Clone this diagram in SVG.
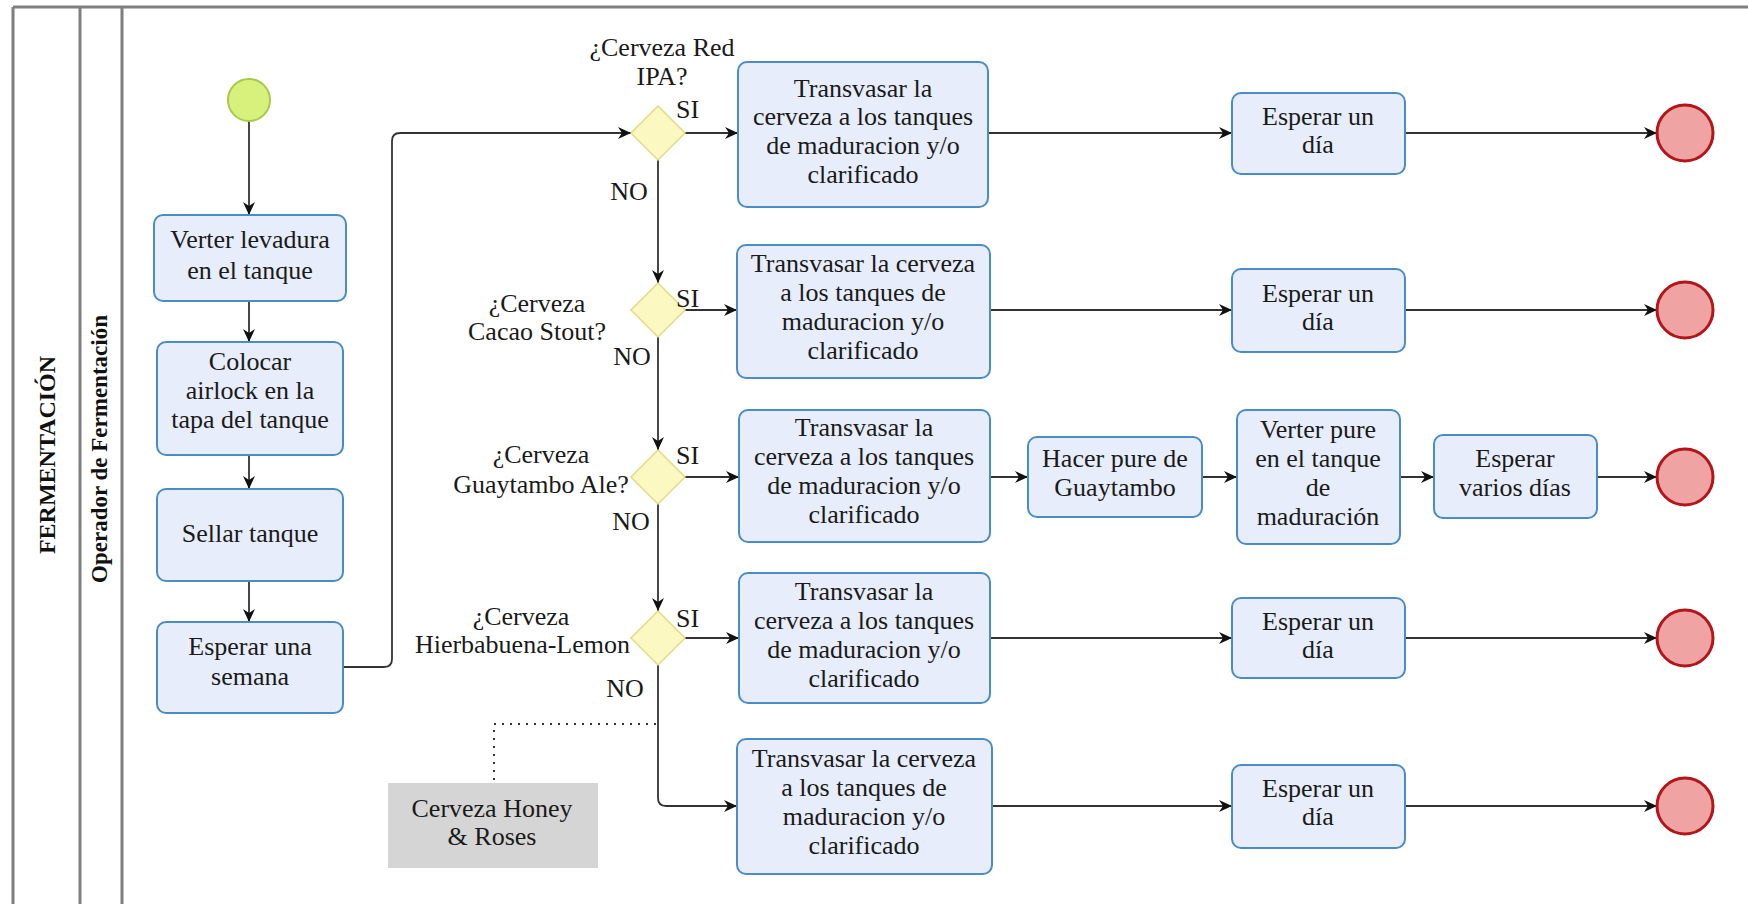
<svg xmlns="http://www.w3.org/2000/svg" width="1748" height="904" viewBox="0 0 1748 904">
  <defs>
    <marker id="arr" markerWidth="14" markerHeight="12" refX="13" refY="6" orient="auto" markerUnits="userSpaceOnUse">
      <path d="M0,0 L13,6 L0,12 L4,6 z" fill="#111"/>
    </marker>
    <style>
      .lane { stroke:#7f7f7f; stroke-width:3; fill:none; }
      .task { fill:#e7edfb; stroke:#4a8cc4; stroke-width:2; }
      .gate { fill:#fbf8c2; stroke:#e2da86; stroke-width:1.5; }
      .start { fill:#d8f07c; stroke:#a9c94a; stroke-width:2; }
      .end { fill:#f0a3a3; stroke:#b3151b; stroke-width:3; }
      .note { fill:#d5d5d5; }
      .t { font-family:"Liberation Serif","Times New Roman",serif; font-size:26px; fill:#1a1a1a; text-anchor:middle; }
      .s { text-anchor:start; }
      .e { text-anchor:end; }
      .hdr { font-family:"Liberation Serif","Times New Roman",serif; font-weight:bold; fill:#111; text-anchor:middle; }
      .flow { fill:none; stroke:#333; stroke-width:1.8; marker-end:url(#arr); }
      .assoc { fill:none; stroke:#333; stroke-width:2; stroke-dasharray:2 6; }
    </style>
  </defs>

  <rect width="1748" height="904" fill="#ffffff"/>

  <!-- pool and lane -->
  <g id="pool">
    <line class="lane" x1="13" y1="7" x2="1748" y2="7"/>
    <line class="lane" x1="13" y1="7" x2="13" y2="904"/>
    <line class="lane" x1="80" y1="7" x2="80" y2="904"/>
    <line class="lane" x1="122" y1="7" x2="122" y2="904" stroke="#9a9a9a"/>
    <text class="hdr" font-size="24" transform="translate(55,455) rotate(-90)">FERMENTACIÓN</text>
    <text class="hdr" font-size="23" transform="translate(107,449) rotate(-90)">Operador de Fermentación</text>
  </g>

  <!-- connectors -->
  <g id="connectors">
    <path class="flow" d="M249,121 V215"/>
    <path class="flow" d="M249,301 V342"/>
    <path class="flow" d="M249,455 V489"/>
    <path class="flow" d="M249,581 V622"/>
    <path class="flow" d="M343,667 H384 Q392,667 392,659 V141 Q392,133 400,133 H631"/>
    <path class="flow" d="M685,133 H738"/>
    <path class="flow" d="M988,133 H1232"/>
    <path class="flow" d="M1405,133 H1657"/>
    <path class="flow" d="M658,160 V283"/>
    <path class="flow" d="M685,310 H737"/>
    <path class="flow" d="M990,310 H1232"/>
    <path class="flow" d="M1405,310 H1657"/>
    <path class="flow" d="M658,337 V450"/>
    <path class="flow" d="M685,477 H739"/>
    <path class="flow" d="M990,477 H1028"/>
    <path class="flow" d="M1202,477 H1237"/>
    <path class="flow" d="M1400,477 H1434"/>
    <path class="flow" d="M1597,477 H1657"/>
    <path class="flow" d="M658,504 V611"/>
    <path class="flow" d="M685,638 H739"/>
    <path class="flow" d="M990,638 H1232"/>
    <path class="flow" d="M1405,638 H1657"/>
    <path class="flow" d="M658,665 V798 Q658,806 666,806 H737"/>
    <path class="flow" d="M992,806 H1232"/>
    <path class="flow" d="M1405,806 H1657"/>
    <path class="assoc" d="M656,724 H494 V780"/>
  </g>

  <!-- start -->
  <g id="start">
    <circle class="start" cx="249" cy="100" r="21"/>
  </g>

  <!-- preparation column -->
  <g id="verter-levadura">
    <rect class="task" x="154" y="215" width="192" height="86" rx="9"/>
    <text class="t" x="250" y="248">Verter levadura</text>
    <text class="t" x="250" y="279">en el tanque</text>
  </g>
  <g id="colocar-airlock">
    <rect class="task" x="157" y="342" width="186" height="113" rx="9"/>
    <text class="t" x="250" y="370">Colocar</text>
    <text class="t" x="250" y="399">airlock en la</text>
    <text class="t" x="250" y="428">tapa del tanque</text>
  </g>
  <g id="sellar-tanque">
    <rect class="task" x="157" y="489" width="186" height="92" rx="9"/>
    <text class="t" x="250" y="542">Sellar tanque</text>
  </g>
  <g id="esperar-semana">
    <rect class="task" x="157" y="622" width="186" height="91" rx="9"/>
    <text class="t" x="250" y="655">Esperar una</text>
    <text class="t" x="250" y="685">semana</text>
  </g>

  <!-- gateways -->
  <g id="gw-red-ipa">
    <path class="gate" d="M658,106 L685,133 L658,160 L631,133 z"/>
    <text class="t" x="662" y="56">¿Cerveza Red</text>
    <text class="t" x="662" y="85">IPA?</text>
    <text class="t s" x="676" y="118">SI</text>
    <text class="t" x="629" y="200">NO</text>
  </g>
  <g id="gw-cacao-stout">
    <path class="gate" d="M658,283 L685,310 L658,337 L631,310 z"/>
    <text class="t" x="537" y="312">¿Cerveza</text>
    <text class="t" x="537" y="340">Cacao Stout?</text>
    <text class="t s" x="676" y="307">SI</text>
    <text class="t" x="632" y="365">NO</text>
  </g>
  <g id="gw-guaytambo">
    <path class="gate" d="M658,450 L685,477 L658,504 L631,477 z"/>
    <text class="t" x="541" y="463">¿Cerveza</text>
    <text class="t" x="541" y="493">Guaytambo Ale?</text>
    <text class="t s" x="676" y="464">SI</text>
    <text class="t" x="631" y="530">NO</text>
  </g>
  <g id="gw-hierbabuena">
    <path class="gate" d="M658,611 L685,638 L658,665 L631,638 z"/>
    <text class="t" x="521" y="625">¿Cerveza</text>
    <text class="t e" x="630" y="653">Hierbabuena-Lemon</text>
    <text class="t s" x="676" y="627">SI</text>
    <text class="t" x="625" y="697">NO</text>
  </g>

  <!-- annotation -->
  <g id="honey-roses">
    <rect class="note" x="388" y="783" width="210" height="85"/>
    <text class="t" x="492" y="817">Cerveza Honey</text>
    <text class="t" x="492" y="845">&amp; Roses</text>
  </g>

  <!-- transfer tasks -->
  <g id="transvasar-1">
    <rect class="task" x="738" y="62" width="250" height="145" rx="9"/>
    <text class="t" x="863" y="97">Transvasar la</text>
    <text class="t" x="863" y="125">cerveza a los tanques</text>
    <text class="t" x="863" y="154">de maduracion y/o</text>
    <text class="t" x="863" y="183">clarificado</text>
  </g>
  <g id="transvasar-2">
    <rect class="task" x="737" y="245" width="253" height="133" rx="9"/>
    <text class="t" x="863" y="272">Transvasar la cerveza</text>
    <text class="t" x="863" y="301">a los tanques de</text>
    <text class="t" x="863" y="330">maduracion y/o</text>
    <text class="t" x="863" y="359">clarificado</text>
  </g>
  <g id="transvasar-3">
    <rect class="task" x="739" y="410" width="251" height="132" rx="9"/>
    <text class="t" x="864" y="436">Transvasar la</text>
    <text class="t" x="864" y="465">cerveza a los tanques</text>
    <text class="t" x="864" y="494">de maduracion y/o</text>
    <text class="t" x="864" y="523">clarificado</text>
  </g>
  <g id="transvasar-4">
    <rect class="task" x="739" y="573" width="251" height="130" rx="9"/>
    <text class="t" x="864" y="600">Transvasar la</text>
    <text class="t" x="864" y="629">cerveza a los tanques</text>
    <text class="t" x="864" y="658">de maduracion y/o</text>
    <text class="t" x="864" y="687">clarificado</text>
  </g>
  <g id="transvasar-5">
    <rect class="task" x="737" y="739" width="255" height="135" rx="9"/>
    <text class="t" x="864" y="767">Transvasar la cerveza</text>
    <text class="t" x="864" y="796">a los tanques de</text>
    <text class="t" x="864" y="825">maduracion y/o</text>
    <text class="t" x="864" y="854">clarificado</text>
  </g>

  <!-- guaytambo branch -->
  <g id="hacer-pure">
    <rect class="task" x="1028" y="437" width="174" height="80" rx="9"/>
    <text class="t" x="1115" y="467">Hacer pure de</text>
    <text class="t" x="1115" y="496">Guaytambo</text>
  </g>
  <g id="verter-pure">
    <rect class="task" x="1237" y="410" width="163" height="134" rx="9"/>
    <text class="t" x="1318" y="438">Verter pure</text>
    <text class="t" x="1318" y="467">en el tanque</text>
    <text class="t" x="1318" y="496">de</text>
    <text class="t" x="1318" y="525">maduración</text>
  </g>
  <g id="esperar-varios">
    <rect class="task" x="1434" y="435" width="163" height="83" rx="9"/>
    <text class="t" x="1515" y="467">Esperar</text>
    <text class="t" x="1515" y="496">varios días</text>
  </g>

  <!-- waiting tasks -->
  <g id="esperar-dia-1">
    <rect class="task" x="1232" y="93" width="173" height="81" rx="9"/>
    <text class="t" x="1318" y="125">Esperar un</text>
    <text class="t" x="1318" y="153">día</text>
  </g>
  <g id="esperar-dia-2">
    <rect class="task" x="1232" y="269" width="173" height="83" rx="9"/>
    <text class="t" x="1318" y="302">Esperar un</text>
    <text class="t" x="1318" y="330">día</text>
  </g>
  <g id="esperar-dia-4">
    <rect class="task" x="1232" y="598" width="173" height="80" rx="9"/>
    <text class="t" x="1318" y="630">Esperar un</text>
    <text class="t" x="1318" y="658">día</text>
  </g>
  <g id="esperar-dia-5">
    <rect class="task" x="1232" y="765" width="173" height="83" rx="9"/>
    <text class="t" x="1318" y="797">Esperar un</text>
    <text class="t" x="1318" y="825">día</text>
  </g>

  <!-- end events -->
  <g id="end-1"><circle class="end" cx="1685" cy="133" r="28"/></g>
  <g id="end-2"><circle class="end" cx="1685" cy="310" r="28"/></g>
  <g id="end-3"><circle class="end" cx="1685" cy="477" r="28"/></g>
  <g id="end-4"><circle class="end" cx="1685" cy="638" r="28"/></g>
  <g id="end-5"><circle class="end" cx="1685" cy="806" r="28"/></g>
</svg>
